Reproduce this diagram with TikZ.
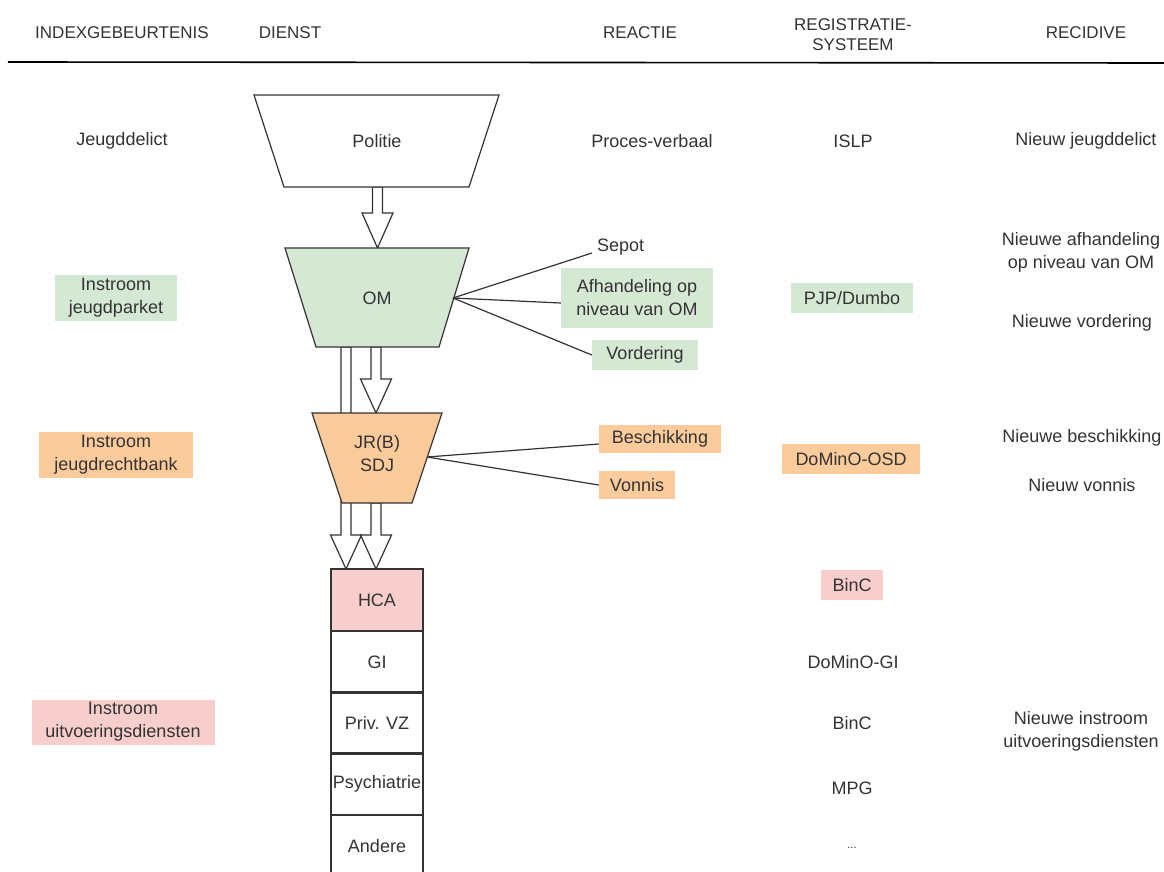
\documentclass[tikz,border=0pt]{standalone}
\usepackage{fontspec}
\setmainfont{Liberation Sans}
\definecolor{tc}{HTML}{333333}
\definecolor{lc}{HTML}{333333}
\definecolor{gfill}{HTML}{D5E8D4}
\definecolor{ofill}{HTML}{FCCB9C}
\definecolor{pfill}{HTML}{F8CECC}
\newcommand\blkarrow[4]{%
  \draw[arrowbox] ({#1-5},{#2}) -- ({#1+5},{#2}) -- ({#1+5},{#3}) -- ({#1+15.5},{#3})
    -- ({#1},{#4}) -- ({#1-15.5},{#3}) -- ({#1-5},{#3}) -- cycle;}
\begin{document}
\begin{tikzpicture}[x=1pt,y=-1pt,
  txt/.style={font=\fontsize{18}{23}\selectfont, text=tc, align=center, inner sep=0pt},
  hdr/.style={font=\fontsize{17}{20}\selectfont, text=tc, align=center, inner sep=0pt},
  boxg/.style={txt, fill=gfill, minimum width=#1},
  boxo/.style={txt, fill=ofill, minimum width=#1},
  boxp/.style={txt, fill=pfill, minimum width=#1},
  shp/.style={draw=lc, line width=1.2pt, line join=miter},
  arrowbox/.style={draw=lc, fill=white, line width=1.2pt, line join=miter},
  conn/.style={draw=lc, line width=1.2pt},
  cell/.style={draw=lc, line width=1.2pt, txt, minimum width=92, minimum height=62}]
\useasboundingbox (0,0) rectangle (1164,872);
\fill[white] (0,0) rectangle (1164,872);

% header
\node[hdr] (h1) at (122,33) {INDEXGEBEURTENIS};
\node[hdr] (h2) at (290,33) {DIENST};
\node[hdr] (h3) at (640,33) {REACTIE};
\node[hdr] (h4) at (853,35) {REGISTRATIE-\\SYSTEEM};
\node[hdr] (h5) at (1086,33) {RECIDIVE};
\draw[black, line width=1.6pt] (8,62) -- (1164,63);

% block arrows (drawn before the shapes they enter)
\blkarrow{377.5}{187}{213}{248}
\blkarrow{346}{347}{535}{569}
\blkarrow{376}{347}{379}{413}
\blkarrow{376}{503}{535}{569}

% trapezoids
\draw[shp, fill=white] (254,95) -- (499,95) -- (469,187) -- (284,187) -- cycle;
\node[txt] (politie) at (377,141) {Politie};
\draw[shp, fill=gfill] (285,248) -- (469,248) -- (439,347) -- (316,347) -- cycle;
\node[txt] (om) at (377,298) {OM};
\draw[shp, fill=ofill] (312,413) -- (442,413) -- (412,503) -- (342,503) -- cycle;
\node[txt] (jr) at (377,454) {JR(B)\\SDJ};
\coordinate (omR) at (453,298);
\coordinate (jrR) at (427,457);

% stack of services
\node[cell, fill=pfill] (hca) at (377,600) {HCA};
\node[cell] (gi) at (377,662) {GI};
\node[cell] (priv) at (377,723) {Priv. VZ};
\node[cell] (psy) at (377,784) {Psychiatrie};
\draw[conn] (331,815) -- (331,873) (423,815) -- (423,873);
\node[txt] (andere) at (377,846) {Andere};

% column 1
\node[txt] (jd) at (122,141) {Jeugddelict};
\node[boxg=122, minimum height=46] (ijp) at (116,298) {Instroom\\jeugdparket};
\node[boxo=154, minimum height=46] (ijr) at (116,455) {Instroom\\jeugdrechtbank};
\node[boxp=183, minimum height=45] (iud) at (123,722) {Instroom\\uitvoeringsdiensten};

% reactie
\node[txt] (pv) at (652,141) {Proces-verbaal};
\node[txt, anchor=west] (sepot) at (597,247) {Sepot};
\node[boxg=152, minimum height=60] (afh) at (637,298) {Afhandeling op\\niveau van OM};
\node[boxg=106, minimum height=30] (vord) at (645,355) {Vordering};
\node[boxo=122, minimum height=28] (besch) at (660,439) {Beschikking};
\node[boxo=76, minimum height=28] (vonn) at (637,485) {Vonnis};
\coordinate (sepotL) at (592,253);

\draw[conn] (omR) -- (sepotL);
\draw[conn] (omR) -- (afh.west |- 0,303);
\draw[conn] (omR) -- (vord.west);
\draw[conn] (jrR) -- (besch.west |- 0,444);
\draw[conn] (jrR) -- (vonn.west);

% registratie
\node[txt] (islp) at (853,141) {ISLP};
\node[boxg=122, minimum height=30] (pjp) at (852,298) {PJP/Dumbo};
\node[boxo=138, minimum height=30] (dosd) at (851,459) {DoMinO-OSD};
\node[boxp=62, minimum height=30] (binc1) at (852,585) {BinC};
\node[txt] (dgi) at (853,662) {DoMinO-GI};
\node[txt] (binc2) at (852,723) {BinC};
\node[txt] (mpg) at (852,788) {MPG};
\node[txt, font=\fontsize{11}{13}\selectfont] (dots) at (852,848) {...};

% recidive
\node[txt] (r1) at (1086,141) {Nieuw jeugddelict};
\node[txt] (r2) at (1081,252) {Nieuwe afhandeling\\op niveau van OM};
\node[txt] (r3) at (1082,323) {Nieuwe vordering};
\node[txt] (r4) at (1082,438) {Nieuwe beschikking};
\node[txt] (r5) at (1082,485) {Nieuw vonnis};
\node[txt] (r6) at (1081,731) {Nieuwe instroom\\uitvoeringsdiensten};
\end{tikzpicture}
\end{document}
